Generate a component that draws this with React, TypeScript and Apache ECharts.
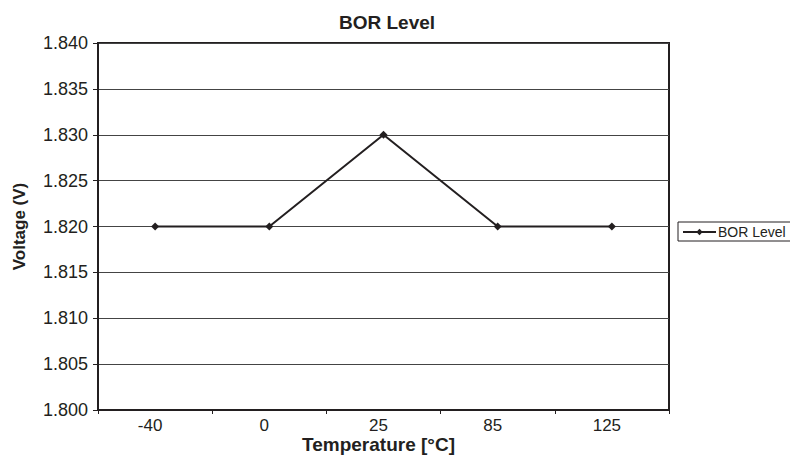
import React, { useEffect, useRef } from "react";
import * as echarts from "echarts";

const categories = ["-40", "0", "25", "85", "125"];
const borLevel = [1.82, 1.82, 1.83, 1.82, 1.82];
const yMin = 1.8;
const yMax = 1.84;
const yStep = 0.005;

export default function App() {
  const ref = useRef<HTMLDivElement>(null);
  useEffect(() => {
    if (!ref.current) return;
    const chart = echarts.init(ref.current, null, { renderer: "svg" });
    const font = "Liberation Sans, Arial, sans-serif";
    chart.setOption({
      animation: false,
      backgroundColor: "#ffffff",
      title: {
        text: "BOR Level",
        left: 382,
        textAlign: "center",
        top: 8,
        textStyle: { fontFamily: font, fontSize: 19, fontWeight: "bold", color: "#231f20" },
      },
      grid: {
        left: 98,
        right: 121,
        top: 43,
        bottom: 46,
        outerBoundsMode: "none",
        containLabel: false,
        show: true,
        borderColor: "#231f20",
        borderWidth: 2,
        backgroundColor: "transparent",
      },
      legend: {
        left: 678,
        top: 222,
        orient: "vertical",
        padding: [3, 12, 2, 4],
        borderColor: "#231f20",
        borderWidth: 1,
        itemWidth: 33,
        itemHeight: 8,
        itemGap: 0,
        textStyle: { fontFamily: font, fontSize: 14, color: "#231f20", padding: [0, 0, 0, -3] },
        data: ["BOR Level"],
      },
      xAxis: {
        type: "category",
        data: categories,
        boundaryGap: true,
        name: "Temperature [°C]",
        nameLocation: "middle",
        nameGap: 25,
        nameMoveOverlap: false,
        nameTextStyle: {
          fontFamily: font,
          fontSize: 19,
          fontWeight: "bold",
          color: "#231f20",
          padding: [0, 10, 0, 0],
        },
        axisLine: { lineStyle: { color: "#231f20", width: 2 } },
        axisTick: { show: true, length: 4, lineStyle: { color: "#231f20" } },
        axisLabel: { fontFamily: font, fontSize: 17, color: "#231f20", margin: 7, padding: [0, 10, 0, 0] },
        splitLine: { show: false },
      },
      yAxis: {
        type: "value",
        min: yMin,
        max: yMax,
        interval: yStep,
        name: "Voltage (V)",
        nameLocation: "middle",
        nameGap: 70,
        nameRotate: 90,
        nameMoveOverlap: false,
        nameTextStyle: { fontFamily: font, fontSize: 17, fontWeight: "bold", color: "#231f20" },
        axisLine: { show: true, lineStyle: { color: "#231f20", width: 2 } },
        axisTick: { show: true, length: 5, lineStyle: { color: "#231f20" } },
        axisLabel: {
          fontFamily: font,
          fontSize: 18,
          color: "#231f20",
          margin: 10,
          formatter: (v: number) => v.toFixed(3),
        },
        splitLine: { show: true, lineStyle: { color: "#444444", width: 1 } },
      },
      series: [
        {
          name: "BOR Level",
          type: "line",
          data: borLevel,
          symbol: "diamond",
          symbolSize: 8,
          lineStyle: { color: "#231f20", width: 2 },
          itemStyle: { color: "#231f20" },
        },
      ],
    });
    return () => chart.dispose();
  }, []);
  return <div ref={ref} style={{ width: 790, height: 456, position: "absolute", left: 0, top: 0 }} />;
}
